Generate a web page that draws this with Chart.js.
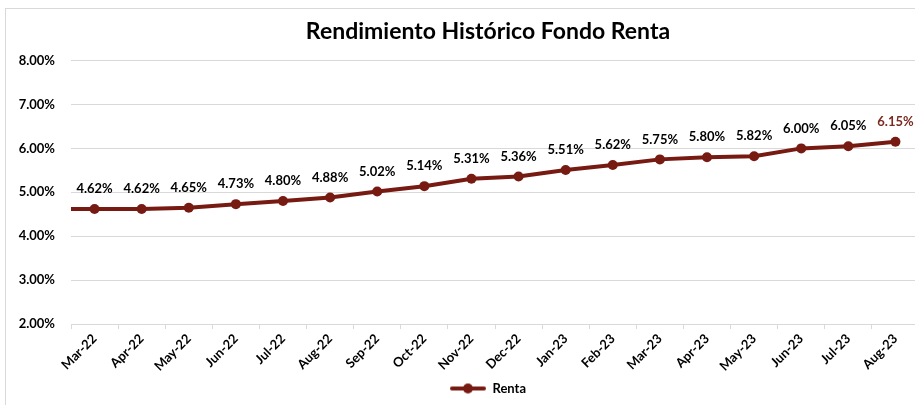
<!DOCTYPE html>
<html>
<head>
<meta charset="utf-8">
<script src="https://cdn.jsdelivr.net/npm/chart.js@4"></script>
<style>
    html, body { margin: 0; padding: 0; background: #fff; overflow: hidden; width: 915px; height: 405px; }
    #marco { position: absolute; left: 5px; top: 8px; width: 966px; height: 400px; border: 1px solid #d9d9d9; box-sizing: border-box; }
</style>
</head>
<body>
<div id="marco"><canvas id="chartRenta"></canvas></div>
<script>
//////////////////////////////////////////////////////////////////////////////////////
/// DATOS DEL GRAFICO /////////////////////////////////////////////////////////////
//////////////////////////////////////////////////////////////////////////////////////
const mesPrevio = "Feb-22";   // mes anterior, solo se ve el tramo de linea que entra al grafico
const valorPrevio = 4.62;

const meses = ["Mar-22", "Apr-22", "May-22", "Jun-22", "Jul-22", "Aug-22", "Sep-22", "Oct-22", "Nov-22",
    "Dec-22", "Jan-23", "Feb-23", "Mar-23", "Apr-23", "May-23", "Jun-23", "Jul-23", "Aug-23"];
const renta = [4.62, 4.62, 4.65, 4.73, 4.80, 4.88, 5.02, 5.14, 5.31, 5.36, 5.51, 5.62, 5.75, 5.80, 5.82, 6.00, 6.05, 6.15];

const ejeY = { min: 2, max: 8, paso: 1 };

const colorLinea = "#761a12";
const fuente = "Lato, 'Open Sans', sans-serif";

//////////////////////////////////////////////////////////////////////////////////////
/// ICONO DE LEYENDA (linea con punto) ////////////////////////////////////////////
//////////////////////////////////////////////////////////////////////////////////////
const iconoLeyenda = document.createElement("canvas");
iconoLeyenda.width = 36;
iconoLeyenda.height = 12;
(function () {
    const c = iconoLeyenda.getContext("2d");
    c.strokeStyle = colorLinea;
    c.lineWidth = 4;
    c.lineCap = "round";
    c.beginPath();
    c.moveTo(2, 6);
    c.lineTo(34, 6);
    c.stroke();
    c.fillStyle = colorLinea;
    c.beginPath();
    c.arc(18, 6, 5, 0, Math.PI * 2);
    c.fill();
})();

//////////////////////////////////////////////////////////////////////////////////////
/// ETIQUETAS DE DATOS ////////////////////////////////////////////////////////////
//////////////////////////////////////////////////////////////////////////////////////
const etiquetasDatos = {
    id: "etiquetasDatos",
    afterDatasetsDraw(chart) {
        const ctx = chart.ctx;
        const area = chart.chartArea;
        const meta = chart.getDatasetMeta(0);
        const valores = chart.data.datasets[0].data;
        ctx.save();
        ctx.font = `bold 13px ${fuente}`;
        ctx.textAlign = "center";
        ctx.textBaseline = "middle";
        meta.data.forEach((p, i) => {
            if (p.x < area.left) return;
            ctx.fillStyle = i === valores.length - 1 ? "#7b2a20" : "#000";
            ctx.fillText(valores[i].toFixed(2) + "%", p.x, p.y - 20);
        });
        ctx.restore();
    }
};

//////////////////////////////////////////////////////////////////////////////////////
/// GRAFICO /////////////////////////////////////////////////////////////////////////
//////////////////////////////////////////////////////////////////////////////////////
const ctx = document.getElementById("chartRenta").getContext("2d");

new Chart(ctx, {
    type: "line",
    data: {
        labels: [mesPrevio, ...meses],
        datasets: [{
            label: "Renta",
            data: [valorPrevio, ...renta],
            borderColor: colorLinea,
            backgroundColor: colorLinea,
            borderWidth: 4,
            pointRadius: c => c.dataIndex === 0 ? 0 : 5,
            pointHoverRadius: 5,
            pointBackgroundColor: colorLinea,
            pointBorderWidth: 0,
            tension: 0
        }]
    },
    options: {
        responsive: true,
        maintainAspectRatio: false,
        animation: false,
        layout: { padding: { left: 0, right: 0, top: 0, bottom: 2 } },
        scales: {
            x: {
                type: "category",
                min: meses[0],
                offset: true,
                grid: {
                    offset: true,
                    drawOnChartArea: false,
                    drawTicks: true,
                    tickLength: 5,
                    color: "#d9d9d9"
                },
                border: { display: true, color: "#d9d9d9", width: 1 },
                ticks: {
                    color: "#000",
                    font: { family: fuente, size: 13, weight: "bold" },
                    maxRotation: 45,
                    minRotation: 45,
                    padding: 2,
                    autoSkip: false
                },
                afterFit: scale => { scale.height = 52; }
            },
            y: {
                min: ejeY.min,
                max: ejeY.max,
                ticks: {
                    stepSize: ejeY.paso,
                    color: "#000",
                    font: { family: fuente, size: 13, weight: "bold" },
                    padding: 16,
                    callback: v => v.toFixed(2) + "%"
                },
                grid: { color: "#d9d9d9", drawTicks: false },
                border: { display: false },
                afterFit: scale => { scale.width = 65; }
            },
            // eje vacio a la derecha: deja el area del grafico cortada como en la imagen
            yDer: {
                position: "right",
                display: true,
                min: ejeY.min,
                max: ejeY.max,
                ticks: { display: false },
                grid: { display: false, drawTicks: false },
                border: { display: false },
                afterFit: scale => { scale.width = 51; }
            }
        },
        plugins: {
            title: {
                display: true,
                text: "Rendimiento Histórico Fondo Renta",
                color: "#000",
                font: { family: fuente, size: 23, weight: "bold" },
                padding: { top: 9, bottom: 15 }
            },
            legend: {
                position: "bottom",
                labels: {
                    usePointStyle: true,
                    pointStyleWidth: 36,
                    padding: 6,
                    color: "#000",
                    font: { family: fuente, size: 13, weight: "bold" },
                    generateLabels: () => [{
                        text: "Renta",
                        pointStyle: iconoLeyenda,
                        fillStyle: colorLinea,
                        strokeStyle: colorLinea,
                        lineWidth: 0,
                        fontColor: "#000",
                        hidden: false,
                        datasetIndex: 0
                    }]
                }
            },
            tooltip: { enabled: false }
        }
    },
    plugins: [etiquetasDatos]
});
</script>
</body>
</html>
